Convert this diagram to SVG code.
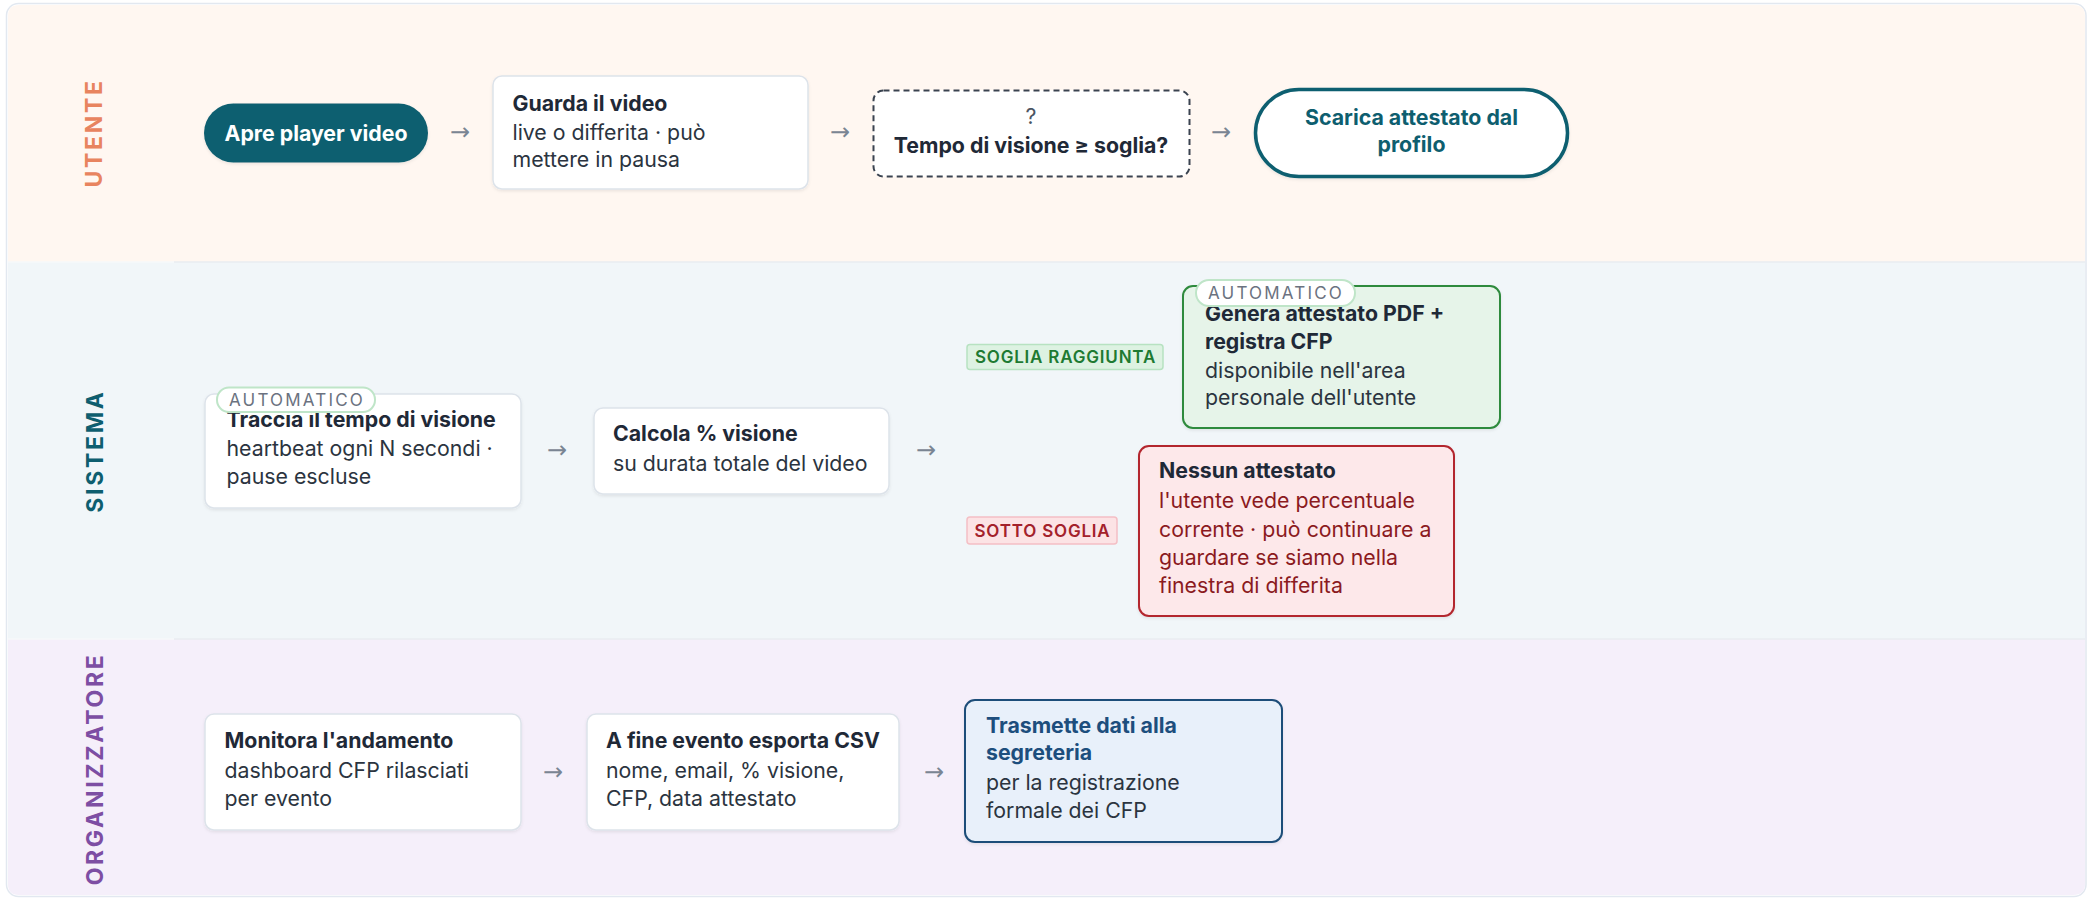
<svg xmlns="http://www.w3.org/2000/svg" width="2089" height="899" viewBox="0 0 2089 899">
<defs>
<style>
.t{font-family:Inter,"Noto Sans","Liberation Sans",sans-serif;font-size:21.3px;font-weight:700;fill:#1F2937}
.b{font-family:Inter,"Noto Sans","Liberation Sans",sans-serif;font-size:21.3px;font-weight:400;fill:#2B3440}
.lane{font-family:Inter,"Noto Sans","Liberation Sans",sans-serif;font-size:23px;font-weight:700;letter-spacing:2.7px}
.card{fill:#FFFFFF;stroke:#DDE3EA;stroke-width:1.5}
.auto{fill:#FFFFFF;stroke:#BFE5C8;stroke-width:2}
.autot{font-family:Inter,"Noto Sans","Liberation Sans",sans-serif;font-size:17px;font-weight:400;fill:#6B7280;letter-spacing:2.2px}
.arr{font-family:"DejaVu Sans","Liberation Sans",sans-serif;font-size:24px;fill:#7A8593}
.tag{font-family:Inter,"Noto Sans","Liberation Sans",sans-serif;font-size:17px;font-weight:600;letter-spacing:0.8px}
</style>
<filter id="sh" x="-10%" y="-10%" width="120%" height="130%">
<feDropShadow dx="0" dy="1.5" stdDeviation="1.5" flood-color="#0F172A" flood-opacity="0.08"/>
</filter>
</defs>

<g id="lanes">
<rect x="6.5" y="3.5" width="2079.5" height="893" rx="12" fill="#FFFFFF" stroke="#E2E8F0" stroke-width="1.5"/>
<path d="M8 262 V16 Q8 5 19 5 H2073 Q2085 5 2085 16 V262 Z" fill="#FFF7F1"/>
<rect x="8" y="262" width="2077" height="377" fill="#F1F6F9"/>
<path d="M8 639 H2085 V884 Q2085 895 2073 895 H19 Q8 895 8 884 Z" fill="#F5EFFA"/>
<line x1="174" y1="262" x2="2085" y2="262" stroke="#E8EDF1" stroke-width="1.5"/>
<line x1="174" y1="639" x2="2085" y2="639" stroke="#E8EDF1" stroke-width="1.5"/>
<line x1="8" y1="262" x2="174" y2="262" stroke="#F6F8FA" stroke-width="1.5"/>
<line x1="8" y1="639" x2="174" y2="639" stroke="#F6F8FA" stroke-width="1.5"/>
<text class="lane" transform="translate(101.5 133) rotate(-90)" text-anchor="middle" fill="#E8845F">UTENTE</text>
<text class="lane" transform="translate(102.5 451) rotate(-90)" text-anchor="middle" fill="#0E5E6F">SISTEMA</text>
<text class="lane" transform="translate(102.5 769) rotate(-90)" text-anchor="middle" fill="#7D4EA3">ORGANIZZATORE</text>
</g>

<g id="connectors">
<text class="arr" x="450" y="140">→</text>
<text class="arr" x="830" y="140">→</text>
<text class="arr" x="1211" y="140">→</text>
<text class="arr" x="547" y="458">→</text>
<text class="arr" x="916" y="458">→</text>
<text class="arr" x="543" y="780">→</text>
<text class="arr" x="924" y="780">→</text>
</g>

<g id="n-apre">
<rect x="204" y="103.5" width="224" height="59" rx="29.5" fill="#0E5E6F" filter="url(#sh)"/>
<text class="t" x="316" y="140.5" text-anchor="middle" style="fill:#FFFFFF">Apre player video</text>
</g>

<g id="n-guarda">
<rect class="card" x="493" y="76" width="315" height="113" rx="9" filter="url(#sh)"/>
<text class="t" x="512.5" y="110.5">Guarda il video</text>
<text class="b" x="512.5" y="140">live o differita · può</text>
<text class="b" x="512.5" y="167">mettere in pausa</text>
</g>

<g id="n-decisione">
<rect x="873.5" y="90.5" width="316" height="86" rx="10" fill="#FFFFFF" stroke="#3A4350" stroke-width="2" stroke-dasharray="6 4"/>
<text class="b" x="1031" y="123.5" text-anchor="middle" style="fill:#4B5563">?</text>
<text class="t" x="1031" y="152.5" text-anchor="middle">Tempo di visione ≥ soglia?</text>
</g>

<g id="n-scarica">
<rect x="1255.5" y="89.5" width="312" height="87" rx="43.5" fill="#FFFFFF" stroke="#0E5E6F" stroke-width="3.5" filter="url(#sh)"/>
<text class="t" x="1411.5" y="124.5" text-anchor="middle" style="fill:#0E5E6F">Scarica attestato dal</text>
<text class="t" x="1411.5" y="152" text-anchor="middle" style="fill:#0E5E6F">profilo</text>
</g>

<g id="n-traccia">
<rect class="card" x="205" y="394" width="316" height="114" rx="9" filter="url(#sh)"/>
<text class="t" x="226.5" y="427">Traccia il tempo di visione</text>
<text class="b" x="226.5" y="456">heartbeat ogni N secondi ·</text>
<text class="b" x="226.5" y="484">pause escluse</text>
<rect class="auto" x="217" y="387.5" width="158" height="24.5" rx="12"/>
<text class="autot" x="297" y="405.5" text-anchor="middle">AUTOMATICO</text>
</g>

<g id="n-calcola">
<rect class="card" x="594" y="408" width="295" height="86" rx="9" filter="url(#sh)"/>
<text class="t" x="613" y="441">Calcola % visione</text>
<text class="b" x="613" y="470.5">su durata totale del video</text>
</g>

<g id="tag-soglia">
<rect x="967" y="344.5" width="196" height="25" rx="3" fill="#DDF2E2" stroke="#B7E2C1" stroke-width="1.5"/>
<text class="tag" x="1065.5" y="363" text-anchor="middle" fill="#1E7A32">SOGLIA RAGGIUNTA</text>
</g>

<g id="tag-sotto">
<rect x="967" y="517" width="150" height="27" rx="3" fill="#FCE3E5" stroke="#F4BFC5" stroke-width="1.5"/>
<text class="tag" x="1042.5" y="536.5" text-anchor="middle" fill="#A3212B">SOTTO SOGLIA</text>
</g>

<g id="n-genera">
<rect x="1183" y="286" width="317" height="142" rx="10" fill="#E6F4E9" stroke="#2E8A3C" stroke-width="2" filter="url(#sh)"/>
<text class="t" x="1205" y="321">Genera attestato PDF +</text>
<text class="t" x="1205" y="348.5">registra CFP</text>
<text class="b" x="1205" y="378">disponibile nell'area</text>
<text class="b" x="1205" y="405">personale dell'utente</text>
<rect class="auto" x="1196" y="280" width="159" height="26" rx="13"/>
<text class="autot" x="1276" y="299" text-anchor="middle">AUTOMATICO</text>
</g>

<g id="n-nessun">
<rect x="1139" y="446" width="315" height="170" rx="10" fill="#FDE8EA" stroke="#B3262E" stroke-width="2" filter="url(#sh)"/>
<text class="t" x="1159" y="478">Nessun attestato</text>
<text class="b" x="1159" y="508" style="fill:#8B1A1E">l'utente vede percentuale</text>
<text class="b" x="1159" y="536.5" style="fill:#8B1A1E">corrente · può continuare a</text>
<text class="b" x="1159" y="565" style="fill:#8B1A1E">guardare se siamo nella</text>
<text class="b" x="1159" y="592.5" style="fill:#8B1A1E">finestra di differita</text>
</g>

<g id="n-monitora">
<rect class="card" x="205" y="714" width="316" height="116" rx="9" filter="url(#sh)"/>
<text class="t" x="224.5" y="748">Monitora l'andamento</text>
<text class="b" x="224.5" y="778">dashboard CFP rilasciati</text>
<text class="b" x="224.5" y="805.5">per evento</text>
</g>

<g id="n-esporta">
<rect class="card" x="587" y="714" width="312" height="116" rx="9" filter="url(#sh)"/>
<text class="t" x="606" y="748">A fine evento esporta CSV</text>
<text class="b" x="606" y="778">nome, email, % visione,</text>
<text class="b" x="606" y="805.5">CFP, data attestato</text>
</g>

<g id="n-trasmette">
<rect x="965" y="700" width="317" height="142" rx="10" fill="#E8F0FA" stroke="#1E4E79" stroke-width="2" filter="url(#sh)"/>
<text class="t" x="986" y="733" style="fill:#1D4E7D">Trasmette dati alla</text>
<text class="t" x="986" y="760" style="fill:#1D4E7D">segreteria</text>
<text class="b" x="986" y="790">per la registrazione</text>
<text class="b" x="986" y="818">formale dei CFP</text>
</g>
</svg>
